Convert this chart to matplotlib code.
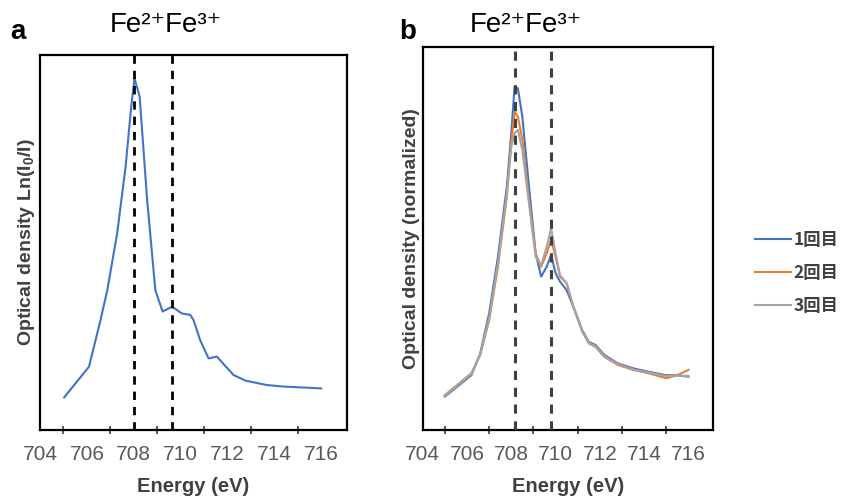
import matplotlib
matplotlib.use('Agg')
import matplotlib.pyplot as plt

plt.rcParams['font.family'] = ['Liberation Sans', 'DejaVu Sans', 'Noto Sans CJK JP']
plt.rcParams['mathtext.fontset'] = 'custom'
plt.rcParams['mathtext.rm'] = 'Liberation Sans'
plt.rcParams['mathtext.it'] = 'Liberation Sans:italic'
plt.rcParams['mathtext.bf'] = 'Liberation Sans:bold'

# ---- panel a: single spectrum ----
energy_a = [705.03, 706.09, 706.58, 706.87, 707.29, 707.65, 707.89, 708.03, 708.17,
            708.25, 708.57, 708.92, 709.23, 709.63, 710.05, 710.41, 710.55, 710.83,
            711.19, 711.54, 712.25, 712.75, 713.67, 714.37, 716.0]
od_a = [0.087, 0.169, 0.293, 0.373, 0.524, 0.702, 0.862, 0.938, 0.907,
        0.889, 0.613, 0.373, 0.316, 0.329, 0.311, 0.307, 0.293, 0.240,
        0.191, 0.196, 0.147, 0.132, 0.120, 0.116, 0.111]

# ---- panel b: three repeated scans ----
energy_b = [705.0, 706.2, 706.6, 707.0, 707.4, 707.8, 708.0, 708.15, 708.3, 708.5,
            708.8, 709.1, 709.35, 709.6, 709.8, 710.0, 710.2, 710.5, 710.8, 711.2,
            711.5, 711.8, 712.2, 712.8, 713.5, 714.2, 715.0, 715.5, 716.0]
scan1 = [0.087, 0.143, 0.200, 0.304, 0.452, 0.635, 0.774, 0.896, 0.891, 0.817,
         0.635, 0.461, 0.400, 0.426, 0.457, 0.409, 0.387, 0.365, 0.322, 0.261,
         0.230, 0.222, 0.196, 0.174, 0.161, 0.152, 0.143, 0.143, 0.139]
scan2 = [0.091, 0.148, 0.196, 0.287, 0.426, 0.609, 0.748, 0.830, 0.817, 0.757,
         0.600, 0.461, 0.426, 0.461, 0.496, 0.452, 0.400, 0.383, 0.322, 0.257,
         0.226, 0.217, 0.191, 0.170, 0.157, 0.148, 0.135, 0.143, 0.157]
scan3 = [0.089, 0.146, 0.198, 0.291, 0.435, 0.617, 0.739, 0.774, 0.783, 0.730,
         0.591, 0.452, 0.430, 0.478, 0.526, 0.461, 0.404, 0.383, 0.323, 0.259,
         0.228, 0.219, 0.193, 0.172, 0.158, 0.150, 0.141, 0.142, 0.141]
scan_labels = ['1回目', '2回目', '3回目']
scan_colors = ['#4472C4', '#ED7D31', '#A5A5A5']

peaks_a = [708.0, 709.63]
peaks_b = [708.15, 709.8]
major_ticks = [704, 706, 708, 710, 712, 714, 716]
minor_ticks = list(range(705, 717))

fig = plt.figure(figsize=(8.46, 4.96), dpi=100)
ax_a = fig.add_axes([0.0473, 0.133, 0.363, 0.756])
ax_b = fig.add_axes([0.4996, 0.133, 0.343, 0.773])

tick_grey = '#595959'


def style_axis(ax, ylabel):
    ax.set_xlim(704, 717.1)
    ax.set_ylim(0, 1)
    ax.set_yticks([])
    ax.set_xticks(major_ticks)
    ax.set_xticks(minor_ticks, minor=True)
    ax.tick_params(axis='x', which='major', length=0, pad=11, labelsize=15,
                   labelcolor=tick_grey)
    ax.tick_params(axis='x', which='minor', direction='inout', length=6,
                   width=1.2, color='#404040')
    for s in ax.spines.values():
        s.set_linewidth(1.6)
        s.set_color('black')
    ax.set_xlabel('Energy (eV)', fontsize=14.5, fontweight='bold', color='#404040',
                  labelpad=9)
    ax.set_ylabel(ylabel, fontsize=14, fontweight='bold', color='#404040',
                  labelpad=2)


# panel a
ax_a.plot(energy_a, od_a, color='#4472C4', lw=1.5)
for e in peaks_a:
    ax_a.axvline(e, color='black', ls=(0, (3, 2.5)), lw=2)
style_axis(ax_a, r'Optical density Ln(I$_\mathbf{0}$/I)')

# panel b
for vals, lab, col in zip([scan1, scan2, scan3], scan_labels, scan_colors):
    ax_b.plot(energy_b, vals, color=col, lw=1.5, label=lab)
for e in peaks_b:
    ax_b.axvline(e, color='#404040', ls=(0, (3, 2.5)), lw=2.2, zorder=3)
style_axis(ax_b, 'Optical density (normalized)')

leg = ax_b.legend(loc='center left', bbox_to_anchor=(1.09, 0.41), frameon=False,
                  handlelength=2.1, handletextpad=0.15, labelspacing=0.85,
                  prop={'family': ['Noto Sans CJK JP'], 'size': 12.5, 'weight': 'bold'})
for t in leg.get_texts():
    t.set_color('#404040')

# titles and panel letters
title = 'Fe²⁺Fe³⁺'
fig.text(0.196, 0.95, title, ha='center', va='center', fontsize=20,
         family=['Liberation Sans', 'DejaVu Sans'])
fig.text(0.622, 0.95, title, ha='center', va='center', fontsize=20,
         family=['Liberation Sans', 'DejaVu Sans'])
fig.text(0.012, 0.935, 'a', fontsize=20, fontweight='bold', va='center')
fig.text(0.472, 0.935, 'b', fontsize=20, fontweight='bold', va='center')

fig.savefig('out.png', dpi=100)
